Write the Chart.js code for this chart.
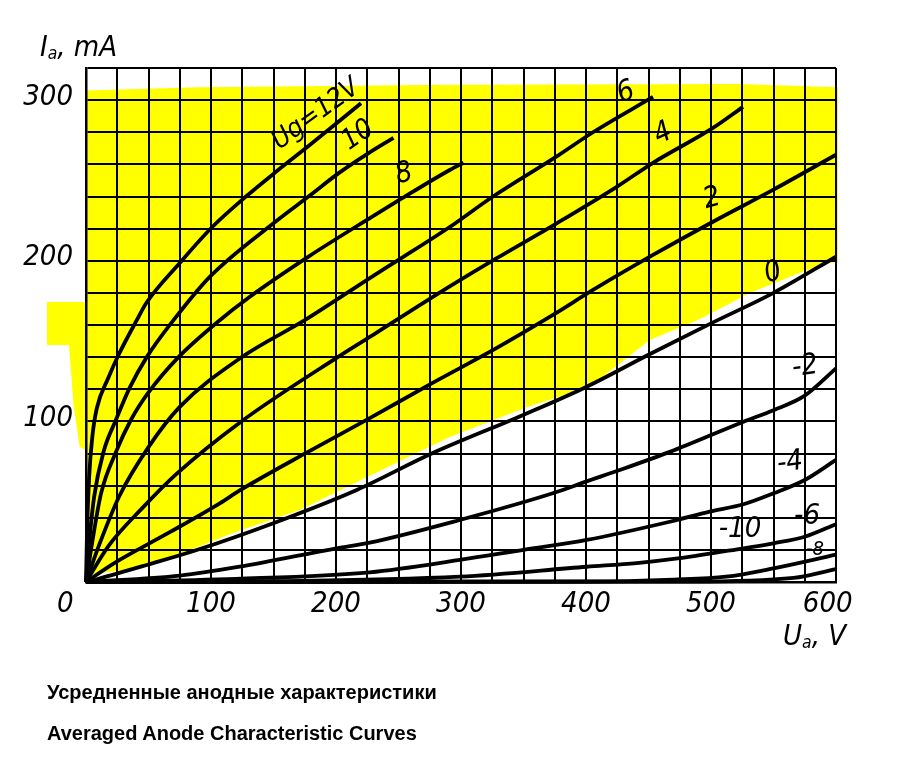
<!DOCTYPE html>
<html><head><meta charset="utf-8">
<script src="https://cdn.jsdelivr.net/npm/chart.js@4.4.1/dist/chart.umd.min.js"></script>
<style>
html,body{margin:0;padding:0;background:#fff;}
#wrap{position:relative;width:902px;height:773px;overflow:hidden;background:#fff;}
#c{position:absolute;left:0;top:0;}
.t{position:absolute;font-family:'DejaVu Sans Condensed','Liberation Sans Narrow',sans-serif;font-style:italic;color:#000;white-space:nowrap;line-height:1;font-size:29px;}
.t sub{font-size:60%;vertical-align:-0.2em;}
.cap{position:absolute;left:47px;font-family:'Liberation Sans',Arial,sans-serif;font-weight:bold;font-size:20px;line-height:1;color:#000;white-space:nowrap;}
</style></head><body>
<div id="wrap">
<canvas id="c" width="902" height="773"></canvas>
<div class="t" style="left:40px;top:32px;">I<sub>a</sub>, mA</div>
<div class="t" style="left:783px;top:621px;">U<sub>a</sub>, V</div>
<div class="cap" style="top:682px;">Усредненные анодные характеристики</div>
<div class="cap" style="top:723px;">Averaged Anode Characteristic Curves</div>
</div>
<script>
// Anode voltage (V) / anode current (mA) pairs, one array per grid voltage
const ug12 = [[0,0],[0.8,30],[2.5,65],[5,90],[8.6,108],[17.8,127],[25.8,141],[40.6,163],[48.5,174],[75,198.6],[101,221],[128,240],[153,256],[179,272],[220,298]];
const ug10 = [[0,0],[2,20],[6.5,53],[14,81],[24,101],[35,121],[48.6,140],[70,163],[99,190],[151,224],[178,240],[203,255],[227,267.5],[246,276.5]];
const ug8  = [[0,0],[4,20],[12,55],[24,81],[36,101],[50,118],[74,140],[107,163],[130,177],[178,202.6],[229,227.5],[251,238],[291,256.5],[302,261]];
const ug6  = [[0,0],[10,22],[27,54],[50,84],[75,109],[124.6,140],[175,163],[228.6,190],[251,201],[291,221],[325.6,240],[376.6,265],[405.6,280],[453.6,302]];
const ug4  = [[0,0],[18.5,23],[45,46],[72,67],[124,99.8],[202,140.3],[231,154.5],[291,184],[328.6,201.6],[376.6,223.3],[424.6,246],[453.6,261],[501.6,282.7],[525.6,295.8]];
const ug2  = [[0,0],[22,11.5],[67,31],[107,49],[123,57],[177.6,81],[227,102],[276.6,123.7],[325.8,144.5],[373.6,166.3],[405.6,181.8],[453.6,203.6],[501.6,224.3],[549.6,244.1],[600,266]];
const ug0  = [[0,0],[10,2],[48.6,10.6],[88.6,19.9],[149.8,36.6],[216.6,57.3],[276.6,80],[349.8,104],[400.6,121.6],[450,141.5],[500,161],[550,180],[600,202.5]];
const ugM2 = [[0,0],[75,4],[123,9.5],[200.6,21],[227,24.5],[299,38.6],[374,55.4],[400,62.5],[427,69.7],[467,81],[526,99.8],[550,107],[575,116],[600,133]];
const ugM4 = [[0,0],[120,2],[227,6],[299,13.7],[350,20],[400.6,26.2],[467,37.5],[499,43.8],[526,48.4],[550,55.2],[575,63.5],[600,76]];
const ugM6 = [[0,0],[150,0.5],[299,3.3],[400.6,9.5],[440.6,11.8],[475,14.8],[526,21],[550,24.1],[575,28.2],[600,36]];
const ugM8 = [[0,0],[400,0.3],[470,1.5],[512,3.3],[550,8.5],[600,17]];
const ugM10 = [[0,0],[480,0.2],[566,2.5],[600,8]];

const gridVoltages = ['12','10','8','6','4','2','0','-2','-4','-6','-8','-10'];
const seriesList = [ug12, ug10, ug8, ug6, ug4, ug2, ug0, ugM2, ugM4, ugM6, ugM8, ugM10];

// Axis ranges and labelled ticks
const xMax = 600, xStep = 25, xLabelStep = 100;
const yMax = 320, yStep = 20, yLabelStep = 100;

// Highlighted (yellow) zone outline, in axis units (V, mA)
const zoneV = [0, 91, 291, 523, 601.6, 601.6, 595, 571, 531, 497, 489, 451, 403, 353, 291, 225, 171, 117.6, 77.6, 45.6, 11.2, 0, 0, -5, -10, -13.6, -31.2, -31.2, 0];
const zoneI = [306, 308, 309.5, 310, 308, 199, 198.6, 192.4, 180, 166, 163, 150.7, 121.4, 109, 90.3, 65.4, 44.8, 30.5, 18, 8.7, 5.6, 4.4, 82, 84, 110, 147.6, 147.6, 174.3, 174.3];

// Curve labels
const labelText = ['Ug=12V','10','8','6','4','2','0','-2','-4','-6','-10','-8'];
const labelV    = [184, 217.6, 254.4, 432, 461.6, 500.8, 549.6, 575.2, 563.2, 576.8, 523.2, 583.2];
const labelI    = [291, 278, 254, 304.5, 279, 238.5, 192.4, 133.9, 74.1, 40.5, 33, 19.9];

const labelRot  = [-36, -35, -15, -20, -25, -15, -15, -8, -8, 0, 0, 0];
const labelSize = [27, 28, 29, 29, 29, 29, 29, 29, 29, 29, 29, 20];

const FONT = "'DejaVu Sans Condensed','Liberation Sans Narrow',sans-serif";

const zonePlugin = {
  id: 'zone',
  beforeDraw(chart) {
    const {ctx, scales: {x, y}} = chart;
    ctx.save();
    ctx.fillStyle = '#ffffff';
    ctx.fillRect(0, 0, chart.width, chart.height);
    ctx.beginPath();
    zoneV.forEach((v, k) => {
      const px = x.getPixelForValue(v), py = y.getPixelForValue(zoneI[k]);
      if (k === 0) ctx.moveTo(px, py); else ctx.lineTo(px, py);
    });
    ctx.closePath();
    ctx.fillStyle = '#ffff00';
    ctx.fill();
    ctx.restore();
  }
};

const labelPlugin = {
  id: 'curveLabels',
  afterDatasetsDraw(chart) {
    const {ctx, scales: {x, y}} = chart;
    ctx.save();
    ctx.fillStyle = '#000';
    ctx.textAlign = 'center';
    ctx.textBaseline = 'middle';
    labelText.forEach((t, k) => {
      ctx.save();
      ctx.translate(x.getPixelForValue(labelV[k]), y.getPixelForValue(labelI[k]));
      ctx.rotate(labelRot[k] * Math.PI / 180);
      ctx.font = 'italic ' + labelSize[k] + 'px ' + FONT;
      ctx.fillText(t, 0, 0);
      ctx.restore();
    });
    ctx.restore();
  }
};

const datasets = seriesList.map((s, k) => ({
  label: 'Ug = ' + gridVoltages[k] + ' V',
  data: s.map(p => ({x: p[0], y: p[1]})),
  borderColor: '#000',
  borderWidth: 3.8,
  pointRadius: 0,
  fill: false,
  cubicInterpolationMode: 'monotone',
  clip: 3
}));

new Chart(document.getElementById('c'), {
  type: 'line',
  data: {datasets},
  options: {
    responsive: false,
    animation: false,
    devicePixelRatio: 1,
    layout: {padding: {left: 0, top: 68, right: 66, bottom: 0}},
    plugins: {legend: {display: false}, tooltip: {enabled: false}},
    scales: {
      x: {
        type: 'linear', min: 0, max: xMax,
        afterFit(scale) { scale.height = 191; },
        grid: {color: '#000', lineWidth: 2, drawTicks: false},
        border: {display: true, color: '#000', width: 2.5},
        ticks: {
          stepSize: xStep, autoSkip: false, maxRotation: 0, padding: 5,
          color: '#000', font: {family: FONT, style: 'italic', size: 29},
          callback: v => v % xLabelStep === 0 ? (v === 0 ? '0     ' : (v === xMax ? v + '  ' : String(v))) : ''
        }
      },
      y: {
        type: 'linear', min: 0, max: yMax,
        afterFit(scale) { scale.width = 86; },
        grid: {color: '#000', lineWidth: 2, drawTicks: false},
        border: {display: true, color: '#000', width: 2.5},
        ticks: {
          stepSize: yStep, autoSkip: false, padding: 13, labelOffset: -3,
          color: '#000', font: {family: FONT, style: 'italic', size: 29},
          callback: v => (v % yLabelStep === 0 && v > 0) ? String(v) : ''
        }
      }
    }
  },
  plugins: [zonePlugin, labelPlugin]
});
</script>
</body></html>
